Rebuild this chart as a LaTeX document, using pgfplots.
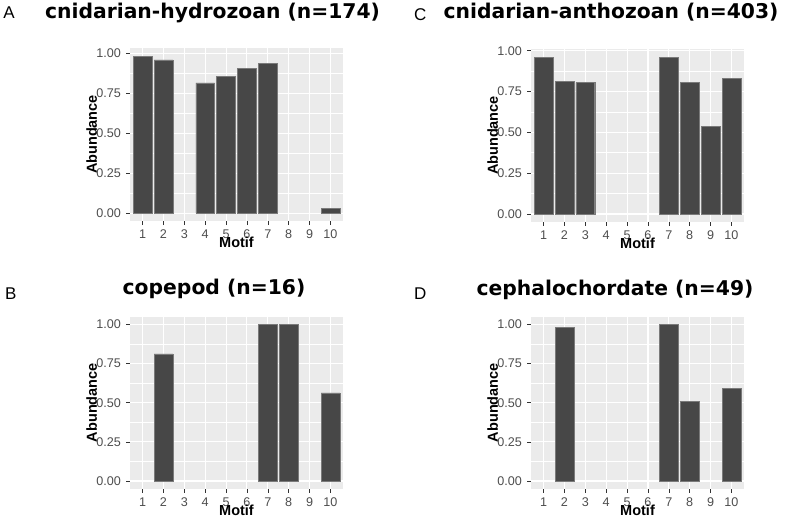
\documentclass[border=0pt]{standalone}
\usepackage{pgfplots}
\pgfplotsset{compat=1.18}
\usepackage{fontspec}
\setmainfont{Liberation Sans}
\newfontfamily\dejavu{DejaVu Sans}
\definecolor{bgcol}{HTML}{EBEBEB}
\definecolor{tickcol}{HTML}{333333}
\definecolor{labcol}{HTML}{4D4D4D}
\definecolor{barcol}{HTML}{474747}
\definecolor{baredge}{HTML}{7A7A7A}
\pgfplotsset{
  gg/.style={
    scale only axis, width=213bp,
    xmin=0.4, xmax=10.6, xtick={1,...,10},
    ytick={0,0.25,0.5,0.75,1}, yticklabels={0.00,0.25,0.50,0.75,1.00},
    minor ytick={0.125,0.375,0.625,0.875},
    grid=both,
    major grid style={white, line width=1.1bp},
    minor grid style={white, line width=0.55bp},
    axis line style={draw=none},
    axis background/.style={fill=bgcol},
    tick align=outside, major tick length=4bp, minor tick length=0pt,
    xtick pos=bottom, ytick pos=left,
    tick style={color=tickcol, line width=0.6bp},
    ticklabel style={font=\fontsize{12.6bp}{15bp}\selectfont, text=labcol, inner sep=0pt},
    xticklabel style={anchor=north, yshift=-4.6bp},
    yticklabel style={anchor=east, xshift=-5bp},
    /pgf/number format/assume math mode=true,
    xlabel=Motif, ylabel=Abundance,
    label style={font=\bfseries\fontsize{14.5bp}{16bp}\selectfont, inner sep=0pt},
    xlabel style={at={(axis description cs:0.5,-0.1245)}, anchor=center},
    ylabel style={at={(axis description cs:-0.1800,0.5)}, anchor=center},
    ybar, bar width=0.9,
    anchor=south west,
  },
  bars/.style={fill=barcol, draw=baredge, line width=0.4bp},
}
\begin{document}
\begin{tikzpicture}[x=1bp,y=1bp]
\path[use as bounding box] (0,0) rectangle (787,-518);
% Panel A
\begin{axis}[gg, at={(130bp,-221bp)}, height=173bp, ymin=-0.049, ymax=1.034]
\addplot[bars] coordinates {(1,0.983) (2,0.960) (4,0.816) (5,0.856) (6,0.908) (7,0.937) (10,0.029)};
\end{axis}
% Panel C
\begin{axis}[gg, at={(531bp,-221.8bp)}, height=172.6bp, ymin=-0.048, ymax=1.009]
\addplot[bars] coordinates {(1,0.960) (2,0.814) (3,0.804) (7,0.958) (8,0.806) (9,0.538) (10,0.831)};
\end{axis}
% Panel B
\begin{axis}[gg, at={(130bp,-488.8bp)}, height=172.2bp, ymin=-0.05, ymax=1.05]
\addplot[bars] coordinates {(2,0.8125) (7,1.0) (8,1.0) (10,0.5625)};
\end{axis}
% Panel D
\begin{axis}[gg, at={(531bp,-488.8bp)}, height=172.2bp, ymin=-0.05, ymax=1.05]
\addplot[bars] coordinates {(2,0.980) (7,1.0) (8,0.510) (10,0.592)};
\end{axis}
% titles
\node[anchor=base, font=\dejavu\bfseries\fontsize{20.3bp}{24bp}\selectfont, inner sep=0pt] at (212.5,-18.5) {cnidarian-hydrozoan (n=174)};
\node[anchor=base, font=\dejavu\bfseries\fontsize{20.3bp}{24bp}\selectfont, inner sep=0pt] at (611,-18.5) {cnidarian-anthozoan (n=403)};
\node[anchor=base, font=\dejavu\bfseries\fontsize{20.3bp}{24bp}\selectfont, inner sep=0pt] at (214,-294.5) {copepod (n=16)};
\node[anchor=base, font=\dejavu\bfseries\fontsize{20.3bp}{24bp}\selectfont, inner sep=0pt] at (615,-295.5) {cephalochordate (n=49)};
% panel letters
\node[anchor=base west, font=\fontsize{17bp}{20bp}\selectfont, inner sep=0pt] at (3.3,-19) {A};
\node[anchor=base west, font=\fontsize{17bp}{20bp}\selectfont, inner sep=0pt] at (414,-20.5) {C};
\node[anchor=base west, font=\fontsize{17bp}{20bp}\selectfont, inner sep=0pt] at (5,-299.3) {B};
\node[anchor=base west, font=\fontsize{17bp}{20bp}\selectfont, inner sep=0pt] at (414,-300) {D};
\end{tikzpicture}
\end{document}
